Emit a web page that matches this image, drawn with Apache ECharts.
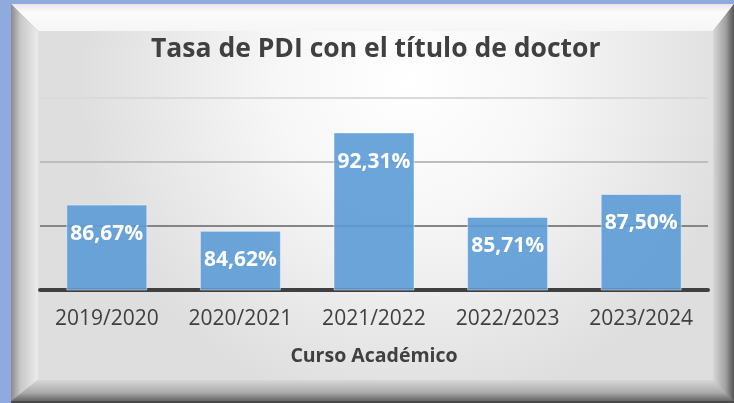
<!DOCTYPE html>
<html>
<head>
<meta charset="utf-8">
<script src="https://cdn.jsdelivr.net/npm/echarts@6/dist/echarts.min.js"></script>
<style>
  html, body { margin: 0; padding: 0; background: #8eaadf; }
  #chart { width: 734px; height: 403px; }
</style>
</head>
<body>
<div id="chart"></div>
<script>
// datos
const cursos = ["2019/2020", "2020/2021", "2021/2022", "2022/2023", "2023/2024"];
const tasas = [86.67, 84.62, 92.31, 85.71, 87.5];
const titulo = "Tasa de PDI con el título de doctor";
const ejeX = "Curso Académico";

const chart = echarts.init(document.getElementById("chart"));
const G = echarts.graphic;

// marco biselado (solo decoración)
const marco = [
  {
    type: "polygon", z: -10,
    shape: { points: [[11, 4], [734, 4], [713, 31], [38, 31]] },
    style: { fill: new G.LinearGradient(0, 0, 0, 1, [
      { offset: 0, color: "#e6e6e6" }, { offset: 0.3, color: "#fbfbfb" }, { offset: 1, color: "#f6f6f6" }]) }
  },
  {
    type: "polygon", z: -10,
    shape: { points: [[11, 4], [38, 31], [38, 380], [11, 401]] },
    style: { fill: new G.LinearGradient(0, 0, 1, 0, [
      { offset: 0, color: "#8a8a8a" }, { offset: 0.35, color: "#c8c8c8" }, { offset: 1, color: "#ececec" }]) }
  },
  {
    type: "polygon", z: -10,
    shape: { points: [[734, 4], [734, 403], [713, 380], [713, 31]] },
    style: { fill: new G.LinearGradient(0, 0, 1, 0, [
      { offset: 0, color: "#d8d8d8" }, { offset: 0.6, color: "#a0a0a0" }, { offset: 1, color: "#555555" }]) }
  },
  {
    type: "polygon", z: -10,
    shape: { points: [[11, 401], [734, 401], [713, 380], [38, 380]] },
    style: { fill: new G.LinearGradient(0, 0, 0, 1, [
      { offset: 0, color: "#d8d8d8" }, { offset: 0.6, color: "#aaaaaa" }, { offset: 1, color: "#666666" }]) }
  },
  {
    type: "rect", z: -10,
    shape: { x: 38, y: 31, width: 675, height: 349 },
    style: { fill: new G.RadialGradient(0.55, 0.15, 0.95, [
      { offset: 0, color: "#ffffff" }, { offset: 0.4, color: "#f7f7f7" }, { offset: 1, color: "#dedede" }]) }
  },
  {
    type: "rect", z: -10,
    shape: { x: 11, y: 401, width: 723, height: 2 },
    style: { fill: "#4a4a4a" }
  }
];

const option = {
  backgroundColor: "#8eaadf",
  animation: false,
  textStyle: { fontFamily: "Open Sans" },
  graphic: marco,
  title: {
    text: titulo,
    left: 146,
    top: 31,
    textStyle: { fontSize: 26.5, fontWeight: "bold", color: "#404040", fontFamily: "Open Sans" }
  },
  grid: { left: 40, right: 26, top: 98, bottom: 113, containLabel: false },
  xAxis: {
    type: "category",
    data: cursos,
    name: ejeX,
    nameLocation: "middle",
    nameGap: 56,
    nameTextStyle: { fontSize: 19.5, fontWeight: "bold", color: "#404040" },
    axisTick: { show: false },
    axisLine: { lineStyle: { color: "#404040", width: 4 } },
    axisLabel: { fontSize: 21, color: "#404040", margin: 19, interval: 0 }
  },
  yAxis: {
    type: "value",
    min: 80,
    max: 95,
    interval: 5,
    axisLabel: { show: false },
    axisLine: { show: false },
    axisTick: { show: false },
    splitLine: { lineStyle: { color: ["transparent", "#858585", "#bdbdbd", "#dadada"], width: 2 } }
  },
  series: [
    {
      type: "bar",
      data: tasas,
      barWidth: 81,
      itemStyle: { color: "rgba(91,155,213,0.9)", borderColor: "rgba(255,255,255,0.45)", borderWidth: 1 },
      label: {
        show: true,
        position: "insideTop",
        distance: 19,
        color: "#ffffff",
        fontSize: 21,
        fontWeight: "bold",
        formatter: (p) => p.value.toFixed(2).replace(".", ",") + "%"
      }
    }
  ]
};

chart.setOption(option);
</script>
</body>
</html>
